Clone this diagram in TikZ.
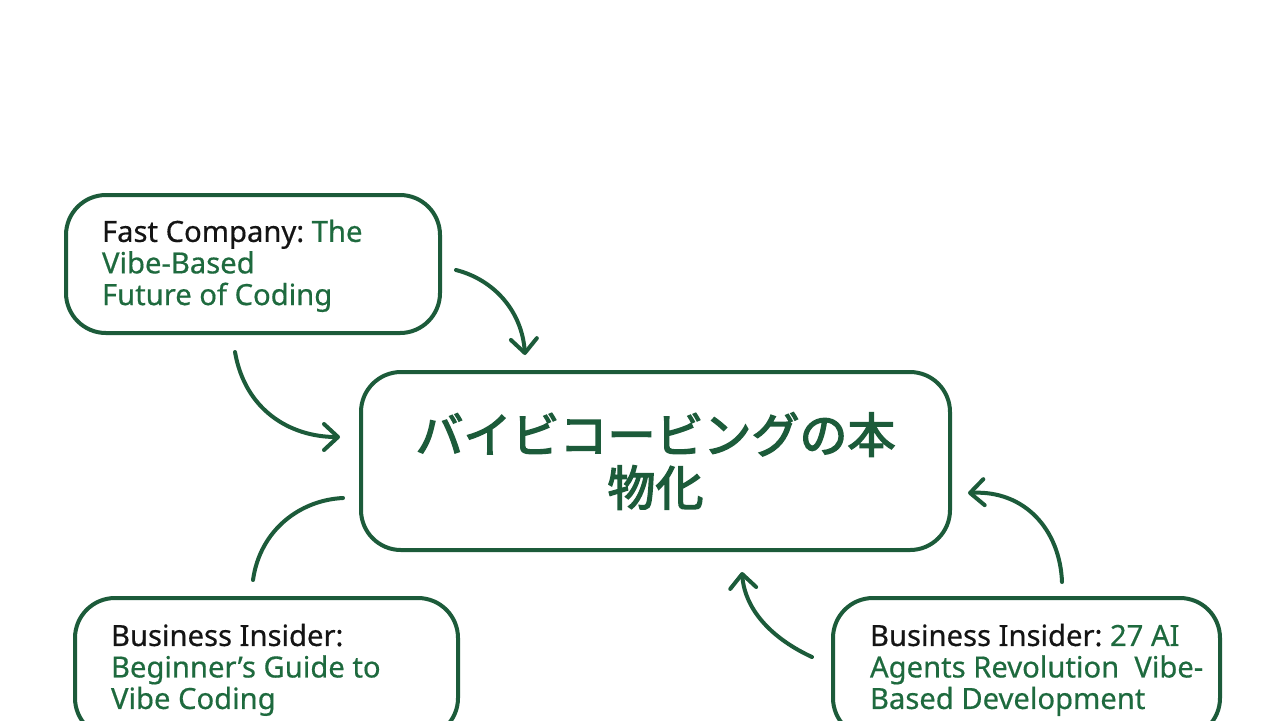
\documentclass[tikz,border=0pt]{standalone}
\usepackage{fontspec}
\setmainfont{Noto Sans}[FakeBold=0.5]
\newfontfamily\cjk{Noto Sans CJK JP}[FakeBold=3]
\usetikzlibrary{arrows.meta}
\definecolor{dg}{HTML}{1C5B3A}
\definecolor{tg}{HTML}{1E6A3E}
\definecolor{tb}{HTML}{141414}
\frenchspacing
\newcommand{\boxtext}[2]{\raisebox{-1.5pt}[\height][\depth]{\makebox[#1][l]{\begin{tabular}{@{}l@{}}#2\end{tabular}}}}
\begin{document}
\begin{tikzpicture}[x=0.5pt,y=-0.5pt,
  box/.style={draw=dg, line width=2pt, rounded corners=20pt, fill=white, inner sep=0pt,
    font=\fontsize{14.6}{15.5}\selectfont, text=tg},
  mainbox/.style={draw=dg, line width=2pt, rounded corners=20pt, fill=white, inner sep=0pt,
    font=\cjk\fontsize{24}{26.5}\selectfont, align=center, text=dg},
  conn/.style={draw=dg, line width=2pt, line cap=round},
  arr/.style={conn, -{Straight Barb[length=7pt,width=13pt,line cap=round,line join=round]}}]
\useasboundingbox (0,0) rectangle (1280,720);
\clip (0,0) rectangle (1280,720);
\fill[white] (0,0) rectangle (1280,720);

\node[box, minimum width=187pt, minimum height=69pt] (fc) at (253,264)
  {\boxtext{151pt}{\textcolor{tb}{Fast Company:} The\\Vibe-Based\\Future of Coding}};
\node[mainbox, minimum width=294.5pt, minimum height=89pt] (main) at (655.5,461)
  {バイビコービングの本\\物化};
\node[box, minimum width=191.5pt, minimum height=70pt] (bi1) at (266.5,668)
  {\boxtext{155.5pt}{\textcolor{tb}{Business Insider:}\\Beginner’s Guide to\\Vibe Coding}};
\node[box, minimum width=193.5pt, minimum height=70pt] (bi2) at (1026.5,668)
  {\boxtext{156.5pt}{\textcolor{tb}{Business Insider:} 27 AI\\Agents Revolution\ \ Vibe-\\Based Development}};

\coordinate (a1s) at (456,270);
\coordinate (a1e) at (525,355);
\coordinate (a2s) at (235,352);
\coordinate (a2e) at (340,437);
\coordinate (a3s) at (253,580);
\coordinate (a3e) at (343,498);
\coordinate (a4s) at (1062,582);
\coordinate (a4e) at (968,493);
\coordinate (a5s) at (812,657);
\coordinate (a5e) at (742,572);

\draw[arr] (a1s) .. controls (495,280) and (522,312) .. (a1e);
\draw[arr] (a2s) .. controls (245,410) and (290,437) .. (a2e);
\draw[conn] (a3s) .. controls (260,530) and (300,500) .. (a3e);
\draw[arr] (a4s) .. controls (1060,530) and (1025,490) .. (a4e);
\draw[arr] (a5s) .. controls (775,640) and (745,612) .. (a5e);
\end{tikzpicture}
\end{document}
